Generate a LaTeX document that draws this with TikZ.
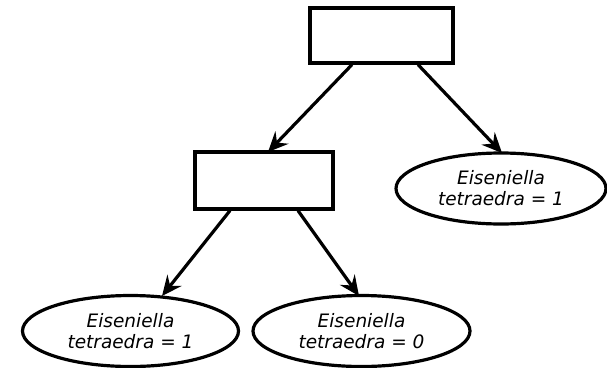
\documentclass[tikz,border=0pt]{standalone}
\usepackage{fontspec}
\setmainfont{DejaVu Sans}
\usetikzlibrary{arrows.meta,shapes.geometric}
\begin{document}
\begin{tikzpicture}[x=1pt,y=-1pt,
  split/.style={draw,line width=3.2pt,rectangle,minimum width=143pt,minimum height=55pt,inner sep=0pt},
  leaf/.style={draw,line width=3.2pt,ellipse,minimum width=210pt,minimum height=71pt,inner sep=0pt,
    align=center,font=\fontsize{18.5}{21}\selectfont\itshape},
  edge/.style={line width=3.2pt,-{Stealth[length=20pt,width=18pt,inset=7pt]}}]
\useasboundingbox (0,0) rectangle (607,367);
\node[split] (root) at (381.5,35.5) {};
\node[split,minimum width=138pt,minimum height=57pt] (mid) at (264,180.5) {};
\node[leaf] (r) at (501,188.5) {Eiseniella\\tetraedra = 1};
\node[leaf,minimum width=216pt] (ll) at (130.5,331) {Eiseniella\\tetraedra = 1};
\node[leaf,minimum width=217pt] (lr) at (361.5,331) {Eiseniella\\tetraedra = 0};
\draw[edge] (root.south -| 352,0) -- (268,152);
\draw[edge] (root.south -| 418,0) -- (502,153);
\draw[edge] (mid.south -| 230,0) -- (162,296);
\draw[edge] (mid.south -| 298,0) -- (359,296);
\end{tikzpicture}
\end{document}
